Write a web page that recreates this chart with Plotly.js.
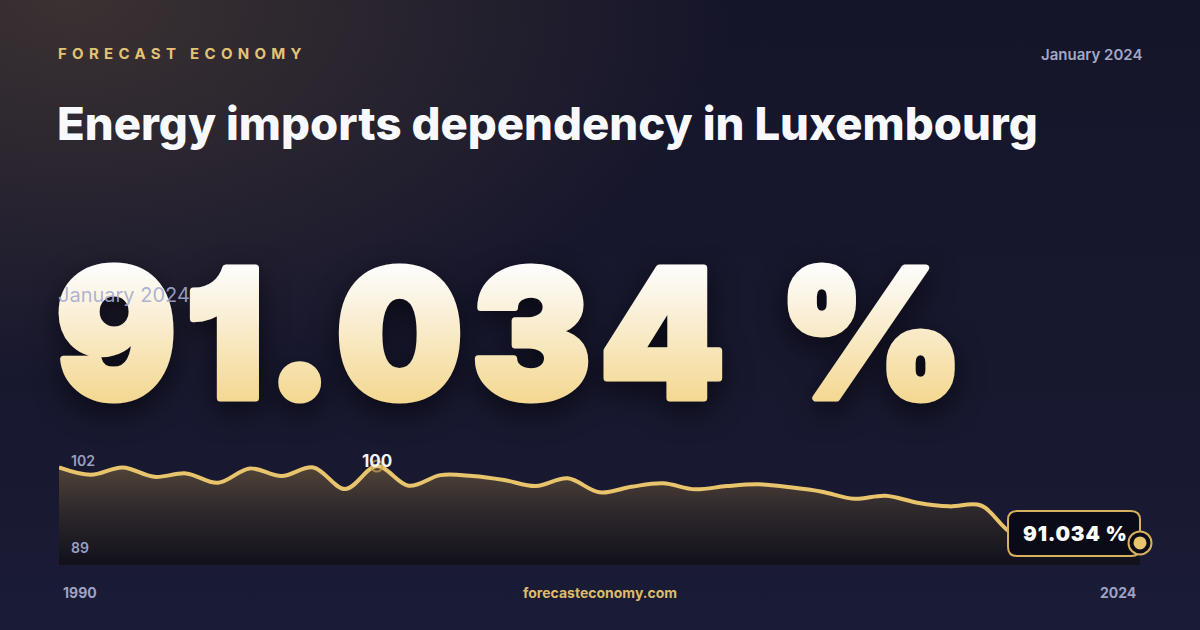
<!DOCTYPE html>
<html>
<head>
<meta charset="utf-8">
<script src="https://cdn.plot.ly/plotly-3.0.1.min.js"></script>
<style>
  html, body { margin: 0; padding: 0; width: 1200px; height: 630px; overflow: hidden; }
  body {
    background:
      radial-gradient(ellipse 55% 60% at 6% 0%, rgba(110, 88, 60, 0.42) 0%, rgba(110, 88, 60, 0) 100%),
      linear-gradient(180deg, #15152a 0%, #17172e 55%, #1a1b35 100%);
  }
  #chart { width: 1200px; height: 630px; }
</style>
</head>
<body>
<div id="chart"></div>
<script>
// Data
const years = [1990, 1991, 1992, 1993, 1994, 1995, 1996, 1997, 1998, 1999,
               2000, 2001, 2002, 2003, 2004, 2005, 2006, 2007, 2008, 2009,
               2010, 2011, 2012, 2013, 2014, 2015, 2016, 2017, 2018, 2019,
               2020, 2021, 2022, 2023, 2024];
const dependency = [99.85, 98.99, 99.85, 98.75, 99.15, 98.06, 99.73, 98.84, 99.85, 97.32,
                    100.0, 97.71, 98.95, 98.84, 98.37, 97.67, 98.57, 96.94, 97.59, 97.99,
                    97.29, 97.67, 97.87, 97.52, 97.01, 96.19, 96.54, 95.73, 95.30, 95.40,
                    92.10, 91.80, 91.50, 91.30, 91.034];
const latestLabel = '91.034 %';
const periodLabel = 'January 2024';
const peakLabel = '100';
const rangeLabels = ['102', '89'];
const endLabels = ['1990', '2024'];

const W = 1200, H = 630;
const px = x => x / W;
const py = y => 1 - y / H;

const GOLD = '#e8c46c';
const yRange = [88.45, 102];

const lastYear = years[years.length - 1];
const lastValue = dependency[dependency.length - 1];
const peakValue = Math.max(...dependency);
const peakYear = years[dependency.indexOf(peakValue)];

// plot runs from x=59 to x=1140 px; a little room is kept on the right
// so the end marker is not clipped by the subplot
const plotL = 59, plotR = 1140, extraR = 24;
const xEnd = lastYear + extraR * (lastYear - years[0]) / (plotR - plotL);

// rounded box behind the latest value (pixel corners -> paper coords)
function roundedBox(x0, y0, x1, y1, r) {
  const rx = r / W, ry = r / H;
  const L = px(x0), R = px(x1), T = py(y0), B = py(y1);
  return `M ${L + rx},${T} L ${R - rx},${T} Q ${R},${T} ${R},${T - ry} ` +
         `L ${R},${B + ry} Q ${R},${B} ${R - rx},${B} L ${L + rx},${B} ` +
         `Q ${L},${B} ${L},${B + ry} L ${L},${T - ry} Q ${L},${T} ${L + rx},${T} Z`;
}

const traces = [
  {
    x: years,
    y: dependency,
    type: 'scatter',
    mode: 'lines',
    line: { color: GOLD, width: 4, shape: 'spline', smoothing: 1 },
    fill: 'tozeroy',
    fillgradient: {
      type: 'vertical',
      start: yRange[0],
      stop: peakValue,
      colorscale: [[0, 'rgb(17,16,27)'], [0.55, 'rgb(46,40,44)'], [1, 'rgb(82,68,56)']]
    },
    hoverinfo: 'skip'
  },
  {
    x: [peakYear],
    y: [peakValue],
    type: 'scatter',
    mode: 'markers',
    marker: { symbol: 'circle-open', size: 11, color: 'rgba(200,160,80,0.75)', line: { width: 2 } },
    cliponaxis: false,
    hoverinfo: 'skip'
  }
];

const layout = {
  width: W,
  height: H,
  margin: { l: 0, r: 0, t: 0, b: 0 },
  paper_bgcolor: 'rgba(0,0,0,0)',
  plot_bgcolor: 'rgba(0,0,0,0)',
  showlegend: false,
  xaxis: { domain: [px(plotL), px(plotR + extraR)], range: [years[0], xEnd], visible: false, fixedrange: true },
  yaxis: { domain: [py(565), py(449)], range: yRange, visible: false, fixedrange: true },
  shapes: [
    {
      type: 'path', xref: 'paper', yref: 'paper', layer: 'above',
      path: roundedBox(1008, 511, 1140, 556, 9),
      fillcolor: '#0b0b18', line: { color: '#d6b25e', width: 2 }
    },
    {
      type: 'circle', xref: 'x', yref: 'y', layer: 'above',
      xsizemode: 'pixel', ysizemode: 'pixel', xanchor: lastYear, yanchor: lastValue,
      x0: -11.5, x1: 11.5, y0: -11.5, y1: 11.5,
      fillcolor: '#0b0b18', line: { color: '#d6b25e', width: 2 }
    },
    {
      type: 'circle', xref: 'x', yref: 'y', layer: 'above',
      xsizemode: 'pixel', ysizemode: 'pixel', xanchor: lastYear, yanchor: lastValue,
      x0: -6.5, x1: 6.5, y0: -6.5, y1: 6.5,
      fillcolor: GOLD, line: { width: 0 }
    }
  ],
  annotations: [
    { // 0 brand
      text: 'FORECAST ECONOMY', xref: 'paper', yref: 'paper', x: px(56), y: py(53),
      xanchor: 'left', yanchor: 'middle', showarrow: false,
      font: { family: 'Inter, sans-serif', size: 15, weight: 700, color: '#e2c375' }
    },
    { // 1 date top right
      text: periodLabel, xref: 'paper', yref: 'paper', x: px(1144), y: py(54),
      xanchor: 'right', yanchor: 'middle', showarrow: false,
      font: { family: 'Inter, sans-serif', size: 15, weight: 600, color: '#a4a7c4' }
    },
    { // 2 title
      text: 'Energy imports dependency in Luxembourg', xref: 'paper', yref: 'paper', x: px(55), y: py(124),
      xanchor: 'left', yanchor: 'middle', showarrow: false,
      font: { family: 'Inter, sans-serif', size: 45.5, weight: 800, color: '#f8f9fd' }
    },
    { // 3 big number
      text: latestLabel, xref: 'paper', yref: 'paper', x: px(50), y: py(333),
      xanchor: 'left', yanchor: 'middle', showarrow: false,
      font: { family: 'Inter, sans-serif', size: 178, weight: 900, color: '#f7e9c4' }
    },
    { // 4 date over number
      text: periodLabel, xref: 'paper', yref: 'paper', x: px(56), y: py(295),
      xanchor: 'left', yanchor: 'middle', showarrow: false,
      font: { family: 'Inter, sans-serif', size: 20, weight: 400, color: 'rgba(165,170,208,0.9)' }
    },
    { // 5 range max
      text: rangeLabels[0], xref: 'paper', yref: 'paper', x: px(69), y: py(461),
      xanchor: 'left', yanchor: 'middle', showarrow: false,
      font: { family: 'Inter, sans-serif', size: 14, weight: 600, color: '#9c9fc0' }
    },
    { // 6 range min
      text: rangeLabels[1], xref: 'paper', yref: 'paper', x: px(69), y: py(547),
      xanchor: 'left', yanchor: 'middle', showarrow: false,
      font: { family: 'Inter, sans-serif', size: 14, weight: 600, color: '#9c9fc0' }
    },
    { // 7 peak value
      text: peakLabel, x: peakYear, y: peakValue, xref: 'x', yref: 'y',
      xanchor: 'center', yanchor: 'middle', yshift: 5, showarrow: false,
      font: { family: 'Inter, sans-serif', size: 17, weight: 700, color: '#f4f4f8' }
    },
    { // 8 latest value in box
      text: latestLabel, xref: 'paper', yref: 'paper', x: px(1021), y: py(533),
      xanchor: 'left', yanchor: 'middle', showarrow: false,
      font: { family: 'Inter, sans-serif', size: 20.5, weight: 900, color: '#ffffff' }
    },
    { // 9 first year
      text: endLabels[0], x: years[0], xref: 'x', yref: 'paper', y: py(592),
      xanchor: 'left', yanchor: 'middle', xshift: 2, showarrow: false,
      font: { family: 'Inter, sans-serif', size: 14, weight: 700, color: '#9ea1c3' }
    },
    { // 10 last year
      text: endLabels[1], x: lastYear, xref: 'x', yref: 'paper', y: py(592),
      xanchor: 'right', yanchor: 'middle', xshift: -2, showarrow: false,
      font: { family: 'Inter, sans-serif', size: 14, weight: 700, color: '#9ea1c3' }
    },
    { // 11 site
      text: 'forecasteconomy.com', xref: 'paper', yref: 'paper', x: px(600), y: py(592),
      xanchor: 'center', yanchor: 'middle', showarrow: false,
      font: { family: 'Inter, sans-serif', size: 14, weight: 700, color: '#dcbc6c' }
    }
  ]
};

// widen text with letter spacing but keep its left edge where plotly put it
function spaceOut(el, spacing) {
  const before = el.getBBox();
  el.style.letterSpacing = spacing;
  const after = el.getBBox();
  const x0 = parseFloat(el.getAttribute('x')) || 0;
  el.setAttribute('x', x0 + (before.x - after.x));
}

Plotly.newPlot('chart', traces, layout, { staticPlot: true, displayModeBar: false }).then(gd => {
  const brand = gd.querySelector('.annotation[data-index="0"] .annotation-text');
  if (brand) spaceOut(brand, '5.3px');

  const boxText = gd.querySelector('.annotation[data-index="8"] .annotation-text');
  if (boxText) spaceOut(boxText, '0.8px');

  // gradient, heavier strokes and shadow on the headline number
  const big = gd.querySelector('.annotation[data-index="3"] .annotation-text');
  if (big) {
    const svg = big.ownerSVGElement;
    const ns = 'http://www.w3.org/2000/svg';
    let defs = svg.querySelector('defs');
    if (!defs) { defs = document.createElementNS(ns, 'defs'); svg.insertBefore(defs, svg.firstChild); }
    const grad = document.createElementNS(ns, 'linearGradient');
    grad.setAttribute('id', 'bigGrad');
    grad.setAttribute('x1', '0'); grad.setAttribute('y1', '0');
    grad.setAttribute('x2', '0'); grad.setAttribute('y2', '1');
    [['0.2', '#fdfcfa'], ['0.8', '#f4d994']].forEach(([o, c]) => {
      const s = document.createElementNS(ns, 'stop');
      s.setAttribute('offset', o); s.setAttribute('stop-color', c);
      grad.appendChild(s);
    });
    defs.appendChild(grad);
    big.style.setProperty('font-feature-settings', '"cv01" 1');
    big.style.fill = 'url(#bigGrad)';
    big.style.stroke = 'url(#bigGrad)';
    big.style.strokeWidth = '7px';
    big.style.strokeLinejoin = 'round';
    big.style.filter = 'drop-shadow(0px 10px 14px rgba(0,0,0,0.55))';
    spaceOut(big, '9px');
  }
});
</script>
</body>
</html>
